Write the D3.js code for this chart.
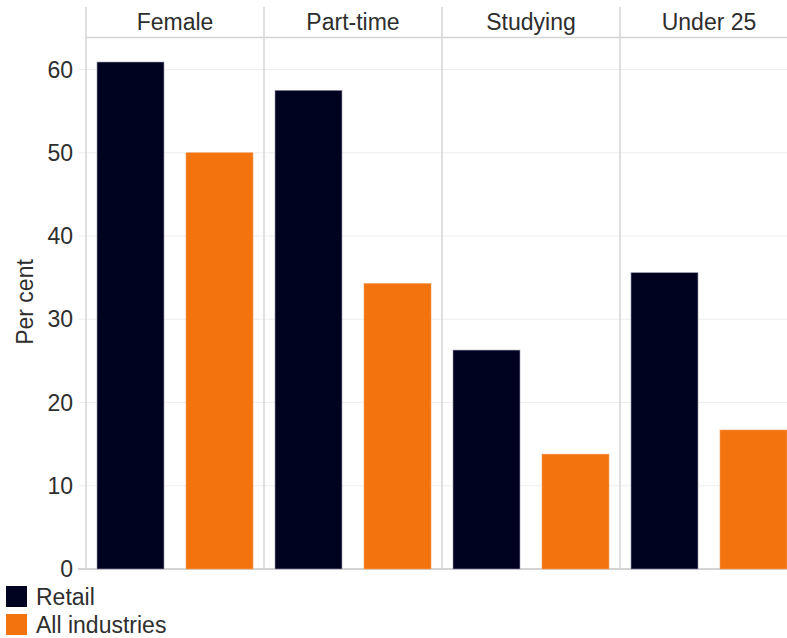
<!DOCTYPE html>
<html>
<head>
<meta charset="utf-8">
<script src="https://cdn.jsdelivr.net/npm/d3@7"></script>
<style>
  html, body { margin: 0; padding: 0; background: #fff; }
  svg { display: block; font-family: "Liberation Sans", Arial, sans-serif; }
</style>
</head>
<body>
<svg id="chart" width="787" height="638"></svg>
<script>
// Workforce characteristics, per cent
const panels = ["Female", "Part-time", "Studying", "Under 25"];
const seriesNames = ["Retail", "All industries"];
const retail = [60.9, 57.5, 26.3, 35.6];
const allIndustries = [50.0, 34.3, 13.8, 16.7];
const yTicks = [0, 10, 20, 30, 40, 50, 60];
const colors = ["#00031f", "#f3730e"];

const svg = d3.select("#chart");
const fontSize = 23, textColor = "#2e2e2e";
const plotLeft = 86, panelW = 178;
const headTop = 7, headBottom = 37.5, base = 569;

const x0 = d3.scaleBand().domain(panels)
  .range([plotLeft, plotLeft + panelW * panels.length]);
const x1 = d3.scaleBand().domain(seriesNames)
  .range([0, panelW]).paddingInner(22 / 89).paddingOuter(11 / 89);
const y = d3.scaleLinear().domain([0, 60]).range([base, 69.5]);

// gridlines with short tick stubs
const grid = svg.append("g");
grid.selectAll("line").data(yTicks).join("line")
  .attr("x1", plotLeft - 8).attr("x2", 787)
  .attr("y1", d => y(d)).attr("y2", d => y(d))
  .attr("stroke", d => d === 0 ? "#d4d4d4" : "#eeeeee")
  .attr("stroke-width", d => d === 0 ? 2 : 1);

// y axis labels
svg.append("g").selectAll("text").data(yTicks).join("text")
  .attr("x", 73).attr("y", d => y(d)).attr("dy", "0.35em")
  .attr("text-anchor", "end").attr("font-size", fontSize).attr("fill", textColor)
  .text(d => d);

svg.append("text")
  .attr("transform", `translate(33,302) rotate(-90)`)
  .attr("text-anchor", "middle").attr("font-size", fontSize).attr("fill", textColor)
  .text("Per cent");

// panel header strip
svg.append("line")
  .attr("x1", plotLeft).attr("x2", 787)
  .attr("y1", headBottom).attr("y2", headBottom)
  .attr("stroke", "#d4d4d4").attr("stroke-width", 1.5);

// panel dividers
svg.append("g").selectAll("line").data(panels).join("line")
  .attr("x1", d => x0(d)).attr("x2", d => x0(d))
  .attr("y1", headTop).attr("y2", base)
  .attr("stroke", "#d4d4d4").attr("stroke-width", 1.5);

svg.append("g").selectAll("text").data(panels).join("text")
  .attr("x", d => x0(d) + panelW / 2).attr("y", 29.5)
  .attr("text-anchor", "middle").attr("font-size", fontSize).attr("fill", textColor)
  .text(d => d);

// bars
const rows = panels.map((p, i) => ({ panel: p, values: [retail[i], allIndustries[i]] }));
const pg = svg.append("g").selectAll("g").data(rows).join("g")
  .attr("transform", d => `translate(${x0(d.panel)},0)`);
pg.selectAll("rect")
  .data(d => d.values.map((v, j) => ({ key: seriesNames[j], value: v, j })))
  .join("rect")
  .attr("x", d => x1(d.key))
  .attr("width", x1.bandwidth())
  .attr("y", d => y(d.value))
  .attr("height", d => y(0) - y(d.value))
  .attr("fill", d => colors[d.j])
  .attr("stroke", d => d.j === 0 ? "#9a9ab0" : "#f7a060")
  .attr("stroke-width", 0.6);

// legend
const lg = svg.append("g").selectAll("g").data(seriesNames).join("g")
  .attr("transform", (d, i) => `translate(6,${586 + i * 28})`);
lg.append("rect").attr("width", 21).attr("height", 21)
  .attr("fill", (d, i) => colors[i]);
lg.append("text").attr("x", 30).attr("y", 10.5).attr("dy", "0.35em")
  .attr("font-size", fontSize).attr("fill", textColor).text(d => d);
</script>
</body>
</html>
